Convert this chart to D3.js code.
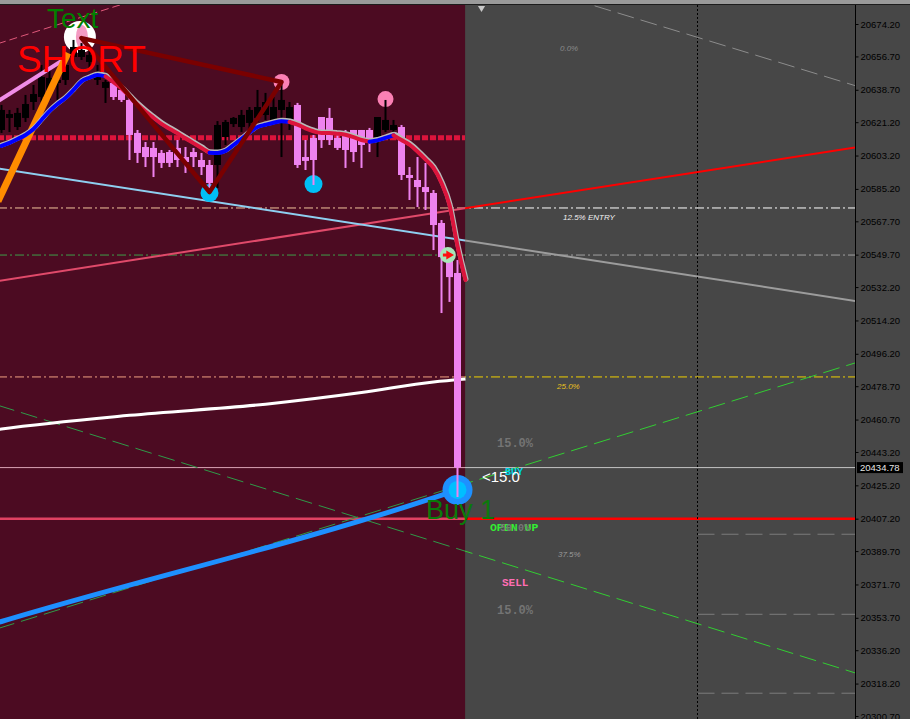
<!DOCTYPE html>
<html><head><meta charset="utf-8">
<script src="https://cdn.jsdelivr.net/npm/d3@7"></script>
<style>body{margin:0;background:#474747;overflow:hidden}svg{display:block}</style>
</head><body><svg id="c" width="910" height="719"></svg>
<script>
// ---------------- DATA ----------------
const openP  = [20617.0,20623.5,20618.6,20623.5,20632.1,20634.8,20637.5,20642.4,20644.0,20656.4,20656.4,20653.7,20644.0,20639.7,20642.4,20638.6,20633.2,20615.4,20607.8,20607.3,20604.6,20605.1,20607.3,20602.4,20605.1,20600.8,20598.1,20598.1,20613.2,20620.2,20618.6,20620.8,20623.5,20625.1,20621.3,20627.8,20620.8,20630.5,20602.4,20612.7,20624.0,20623.5,20612.7,20614.3,20617.0,20617.0,20617.0,20611.6,20617.0,20617.0,20618.6,20592.7,20590.0,20586.2,20583.0,20566.8,20548.4,20539.8];
const highP  = [20630.5,20627.8,20628.9,20635.9,20641.3,20652.1,20649.4,20646.7,20657.5,20665.6,20663.9,20660.2,20652.1,20644.0,20642.4,20639.7,20634.3,20617.0,20610.5,20610.5,20606.2,20606.2,20611.6,20607.8,20607.3,20604.6,20600.8,20621.8,20622.4,20624.0,20627.8,20629.4,20638.6,20637.0,20634.8,20642.9,20632.1,20631.6,20611.6,20614.3,20624.0,20628.9,20615.4,20617.0,20617.0,20617.0,20618.1,20624.0,20633.2,20622.4,20619.7,20597.0,20602.4,20599.2,20584.6,20568.4,20552.2,20546.8];
const lowP   = [20615.4,20615.9,20617.0,20621.3,20627.8,20632.1,20633.2,20633.2,20641.3,20651.0,20654.8,20650.5,20641.3,20631.6,20633.2,20632.1,20600.8,20599.2,20597.0,20591.6,20596.5,20597.0,20597.0,20593.8,20597.0,20592.7,20584.6,20585.7,20608.9,20618.6,20615.9,20617.0,20621.3,20622.4,20619.7,20602.4,20617.0,20596.5,20595.4,20587.3,20607.3,20608.9,20606.2,20596.5,20599.7,20596.5,20605.1,20602.4,20615.9,20614.3,20590.0,20579.2,20575.4,20573.8,20552.2,20518.2,20524.2,20418.9];
const closeP = [20627.8,20625.6,20626.2,20631.0,20636.4,20645.6,20645.1,20644.0,20652.1,20661.8,20660.2,20657.5,20648.3,20642.9,20634.8,20633.2,20614.3,20604.6,20602.4,20602.4,20599.2,20599.2,20600.8,20599.7,20602.4,20597.0,20588.4,20619.7,20621.3,20623.5,20625.1,20627.8,20629.4,20632.1,20629.4,20633.2,20629.4,20598.1,20600.3,20600.8,20611.6,20611.6,20607.3,20606.2,20605.1,20608.9,20610.0,20624.0,20622.4,20619.7,20592.7,20591.1,20586.2,20583.5,20565.7,20548.4,20537.6,20434.78];

// colored moving average (value per bar, last one projected one bar ahead)
const maValues = [20608.4,20610.0,20612.1,20614.3,20617.5,20622.4,20627.2,20631.0,20634.3,20638.6,20643.2,20645.2,20646.7,20645.9,20642.8,20639.4,20635.1,20630.8,20627.0,20623.6,20620.3,20617.7,20615.2,20612.5,20609.9,20607.3,20604.7,20604.6,20605.7,20608.9,20612.2,20615.6,20618.6,20619.8,20620.9,20621.7,20621.3,20619.9,20617.9,20616.3,20615.4,20615.4,20615.0,20614.4,20613.1,20611.6,20610.7,20611.4,20612.7,20614.1,20611.6,20609.1,20605.4,20601.1,20596.5,20588.4,20576.5,20554.4,20536.0];
const maTrend  = [1,1,1,1,1,1,1,1,1,1,1,1,1,-1,-1,-1,-1,-1,-1,-1,-1,-1,-1,-1,-1,-1,1,1,1,1,1,1,1,1,1,1,-1,-1,-1,-1,-1,-1,-1,-1,-1,-1,1,1,1,-1,-1,-1,-1,-1,-1,-1,-1,-1];

// slow line (white) and blue support line: [bar, price]
const whiteLine = [[-1,20455.0],[0,20455.6],[16,20463.0],[33,20469.0],[45,20475.3],[54,20481.0],[58,20482.6]];
const blueLine  = [[-1,20350.4],[0,20351.7],[54,20418.4],[57,20422.7]];

// trend lines: two anchors [bar, price]
const trendRed   = [[0,20535.8],[100,20603.0]];
const trendBlue  = [[0,20596.0],[100,20529.2]];
const greenDown  = [[0,20467.8],[100,20333.0]];
const greenUp    = [[0,20348.5],[100,20482.3]];
const pinkTop    = [[0,20664.2],[10,20677.9]];
const grayTop    = [[74,20684.2],[100,20649.8]];
const violetSeg  = [[0,20633.7],[8.3,20656.4]];
const orangeSeg  = [[0,20582.5],[8.3,20658.5]];
const triangle   = [[10,20666.6],[35,20642.9],[26,20583.5]];

// horizontal levels
const dottedLevel = 20612.8;
const levelPrices = [20574.9, 20549.5, 20483.7, 20434.78, 20407.2];
const stopPrices  = [20398.8, 20355.6, 20313.0];
const vLineBar = 87;
const zoneEndBar = 57.95;

// markers
const pinkDotBars = [35, 48],   pinkDotPrices = [20642.9, 20633.7];
const cyanDotBars = [26, 39],   cyanDotPrices = [20583.0, 20587.8];
const textMarker  = [9.8, 20667.2];
const buyDot      = [57, 20422.7];
const entryDot    = [55.8, 20549.5];
const topArrowBar = 60;

// price scale ticks
const tickVals = [20674.20,20656.70,20638.70,20621.20,20603.20,20585.20,20567.70,20549.70,20532.20,20514.20,20496.20,20478.70,20460.70,20443.20,20425.20,20407.20,20389.70,20371.70,20353.70,20336.20,20318.20,20300.70];
const lastPrice = 20434.78;

// text labels: [text, bar, price]
const labelTexts  = ["Text","SHORT","Buy 1","BUY","<15.0","OPEN UP","50.0%","15.0%","15.0%","SELL","0.0%","12.5% ENTRY","25.0%","37.5%"];
const labelBars   = [5.69,1.94,53.06,62.94,60.06,61.06,62.31,61.94,61.94,62.56,69.81,70.19,69.44,69.56];
const labelPrices = [20672.0,20648.3,20407.0,20430.8,20427.0,20400.6,20400.6,20445.9,20355.8,20370.9,20659.6,20568.4,20477.2,20386.5];

// ---------------- DRAW ----------------
const svg = d3.select("#c");
const W = 910, H = 719, plotR = 855;
const x = d3.scaleLinear().domain([0,100]).range([1.5,801.5]);
const y = d3.scaleLinear().domain([20674.2,20300.7]).range([24,716]);
const zx = x(zoneEndBar);

svg.append("rect").attr("width",W).attr("height",H).attr("fill","#474747");
svg.append("rect").attr("width",W).attr("height",4).attr("fill","#9a9a9a");
svg.append("line").attr("x1",0).attr("x2",W).attr("y1",4.5).attr("y2",4.5).attr("stroke","#1c1c1c");
svg.append("rect").attr("x",0).attr("y",5).attr("width",zx).attr("height",H-5).attr("fill","#4c0b22");

const defs = svg.append("defs");
defs.append("clipPath").attr("id","cL").append("rect").attr("x",0).attr("y",5).attr("width",zx).attr("height",H);
defs.append("clipPath").attr("id","cR").append("rect").attr("x",zx).attr("y",5).attr("width",plotR-zx).attr("height",H);
defs.append("clipPath").attr("id","cA").append("rect").attr("x",0).attr("y",5).attr("width",plotR).attr("height",H);

const gL = svg.append("g").attr("clip-path","url(#cL)");
const gR = svg.append("g").attr("clip-path","url(#cR)");
const gA = svg.append("g").attr("clip-path","url(#cA)");

const lineGen = d3.line().x(d=>x(d[0])).y(d=>y(d[1]));
const i0 = x.invert(-2), i1 = x.invert(plotR+2);
function extend(a,b){const m=(b[1]-a[1])/(b[0]-a[0]);return [[i0,a[1]+m*(i0-a[0])],[i1,a[1]+m*(i1-a[0])]];}
function startAtEdge(a,b){const m=(b[1]-a[1])/(b[0]-a[0]);return [[i0,a[1]+m*(i0-a[0])],b];}
function draw(g,pts,stroke,w,dash,curve){
  const p=g.append("path").attr("d",(curve?d3.line().x(d=>x(d[0])).y(d=>y(d[1])).curve(curve):lineGen)(pts))
    .attr("fill","none").attr("stroke",stroke).attr("stroke-width",w);
  if(dash) p.attr("stroke-dasharray",dash);
  return p;
}
function both(pts,cL,cR,w,dash){draw(gL,pts,cL,w,dash);draw(gR,pts,cR,w,dash);}

// horizontal levels
const lvlStyles = [
  {cL:"#f2c49c",cR:"#ffffff",w:1,dash:"9,3,2,3"},
  {cL:"#3f9f4a",cR:"#a2a2a2",w:1,dash:"9,3,2,3"},
  {cL:"#f0a080",cR:"#f0d000",w:1,dash:"9,3,2,3"},
  {cL:"#d9a3b5",cR:"#c4c4c4",w:1,dash:null},
  {cL:"#e04262",cR:"#ff0000",w:2.5,dash:null}
];
levelPrices.forEach((p,k)=>{const s=lvlStyles[k];both([[i0,p],[i1,p]],s.cL,s.cR,s.w,s.dash);});
stopPrices.forEach(p=>draw(gA,[[vLineBar,p],[i1,p]],"#7c7c7c",1,"17,7"));
gA.append("line").attr("x1",x(vLineBar)).attr("x2",x(vLineBar)).attr("y1",5).attr("y2",H)
  .attr("stroke","#000").attr("stroke-dasharray","2,2");

// trend lines
both(extend(...trendRed),"#e04a6a","#ff0000",2,null);
both(extend(...trendBlue),"#8ecff0","#9c9c9c",2,null);
both(extend(...greenDown),"#2f9a48","#32cd32",1,"17,7");
both(extend(...greenUp),"#2f9a48","#32cd32",1,"17,7");
draw(gA,extend(...pinkTop),"#e0587a",1,"8,4");
draw(gA,extend(...grayTop),"#8c8c8c",1,"17,7");
draw(gA,extend(...whiteLine.slice(0,2)).slice(0,1).concat(whiteLine.slice(1)),"#ffffff",3,null,d3.curveMonotoneX);
draw(gA,blueLine,"#1e90ff",5,null,d3.curveMonotoneX);

// markers under candles
gA.append("circle").attr("cx",x(textMarker[0])).attr("cy",y(textMarker[1])).attr("r",16).attr("fill","#ffffff");
gA.append("ellipse").attr("cx",x(textMarker[0])+2).attr("cy",y(textMarker[1])).attr("rx",6).attr("ry",12).attr("fill","#f49ac2");
pinkDotBars.forEach((b,k)=>gA.append("circle").attr("cx",x(b)).attr("cy",y(pinkDotPrices[k])).attr("r",8).attr("fill","#fb80b4"));
cyanDotBars.forEach((b,k)=>gA.append("circle").attr("cx",x(b)).attr("cy",y(cyanDotPrices[k])).attr("r",9).attr("fill","#00bff5"));
gA.append("circle").attr("cx",x(buyDot[0])).attr("cy",y(buyDot[1])).attr("r",15).attr("fill","#1e90ff");
gA.append("circle").attr("cx",x(buyDot[0])).attr("cy",y(buyDot[1])).attr("r",9).attr("fill","#00bfff");

// candles
const gc = gA.append("g");
openP.forEach((o,k)=>{
  const c=closeP[k], bull=c>=o, col = bull ? "#000000" : "#ee82ee", cx=x(k);
  gc.append("rect").attr("x",cx-1).attr("width",2).attr("y",y(highP[k])).attr("height",Math.max(1,y(lowP[k])-y(highP[k]))).attr("fill",col);
  const top=y(Math.max(o,c)), bot=y(Math.min(o,c));
  gc.append("rect").attr("x",cx-3.5).attr("width",7).attr("y",top).attr("height",Math.max(1.5,bot-top)).attr("fill",col);
});

// steep lines drawn over the candles
draw(gA,startAtEdge(...violetSeg),"#f08ce6",4,null);
draw(gA,startAtEdge(...orangeSeg),"#ff8c00",7,null);

// dotted level
draw(gL,[[i0,dottedLevel],[zoneEndBar,dottedLevel]],"#dc143c",5,"6,2");

// moving average
const maPts = maValues.map((v,k)=>[k,v]);
draw(gA,maPts,"#b8b8b8",5,null,d3.curveMonotoneX).attr("transform","translate(0.5,-1)").attr("stroke-linecap","round");
let s=0;
for(let k=1;k<=maTrend.length;k++){
  if(k===maTrend.length || maTrend[k]!==maTrend[s]){
    draw(gA,maPts.slice(s,k+1),maTrend[s]>0?"#0000ff":"#dc143c",4,null,d3.curveMonotoneX).attr("stroke-linecap","round");
    s=k;
  }
}

// zigzag triangle
gA.append("path").attr("d",lineGen(triangle)+"Z").attr("fill","none").attr("stroke","#7a0000").attr("stroke-width",4.5).attr("stroke-linejoin","round");

// entry marker
const ex=x(entryDot[0]), ey=y(entryDot[1]);
gA.append("circle").attr("cx",ex).attr("cy",ey).attr("r",8).attr("fill","#a8e6b8");
gA.append("path").attr("d",d3.symbol(d3.symbolTriangle,34)()).attr("transform",`translate(${ex+1},${ey}) rotate(90)`).attr("fill","#ff1010");
gA.append("rect").attr("x",ex-5).attr("y",ey-1.5).attr("width",5).attr("height",3).attr("fill","#ff1010");

// top arrow
svg.append("path").attr("d",d3.symbol(d3.symbolTriangle,22)()).attr("transform",`translate(${x(topArrowBar)},8) rotate(180)`).attr("fill","#c8c8c8");

// labels
const lblStyle = [
  {f:"Liberation Sans",s:28,c:"#008000"},
  {f:"Liberation Sans",s:37,c:"#ff0000"},
  {f:"Liberation Sans",s:27,c:"#0a7a0a"},
  {f:"Liberation Mono",s:10,c:"#00d8e8",b:1},
  {f:"Liberation Sans",s:15,c:"#ffffff"},
  {f:"Liberation Mono",s:11.5,c:"#33ee33",b:1},
  {f:"Liberation Mono",s:10,c:"#767676",b:1},
  {f:"Liberation Mono",s:12,c:"#747474",b:1},
  {f:"Liberation Mono",s:12,c:"#747474",b:1},
  {f:"Liberation Mono",s:11,c:"#ff6eb4",b:1},
  {f:"Liberation Sans",s:8,c:"#8a8a8a",i:1},
  {f:"Liberation Sans",s:8,c:"#f0f0f0",i:1},
  {f:"Liberation Sans",s:8,c:"#e8c020",i:1},
  {f:"Liberation Sans",s:8,c:"#9a9a9a",i:1}
];
labelTexts.forEach((t,k)=>{
  const st=lblStyle[k];
  svg.append("text").attr("x",x(labelBars[k])).attr("y",y(labelPrices[k])).text(t)
    .attr("font-family",st.f+", sans-serif").attr("font-size",st.s).attr("fill",st.c)
    .attr("font-weight",st.b?"bold":"normal").attr("font-style",st.i?"italic":"normal");
});

// price axis
svg.append("line").attr("x1",plotR+0.5).attr("x2",plotR+0.5).attr("y1",5).attr("y2",H).attr("stroke","#000");
const ax = svg.append("g").attr("transform",`translate(${plotR+0.5},0)`)
  .call(d3.axisRight(y).tickValues(tickVals).tickSize(3).tickSizeOuter(0).tickPadding(2).tickFormat(d3.format(".2f")));
ax.select(".domain").remove();
ax.selectAll("line").attr("stroke","#000");
ax.selectAll("text").attr("fill","#000").attr("font-family","Liberation Sans, sans-serif").attr("font-size",9.5);
const ly=y(lastPrice);
svg.append("rect").attr("x",plotR+2).attr("y",ly-5.5).attr("width",46).attr("height",11).attr("fill","#000");
svg.append("text").attr("x",plotR+5).attr("y",ly).attr("dy","0.34em").text(d3.format(".2f")(lastPrice))
  .attr("fill","#e6e6e6").attr("font-family","Liberation Sans, sans-serif").attr("font-size",9.5);
</script></body></html>
